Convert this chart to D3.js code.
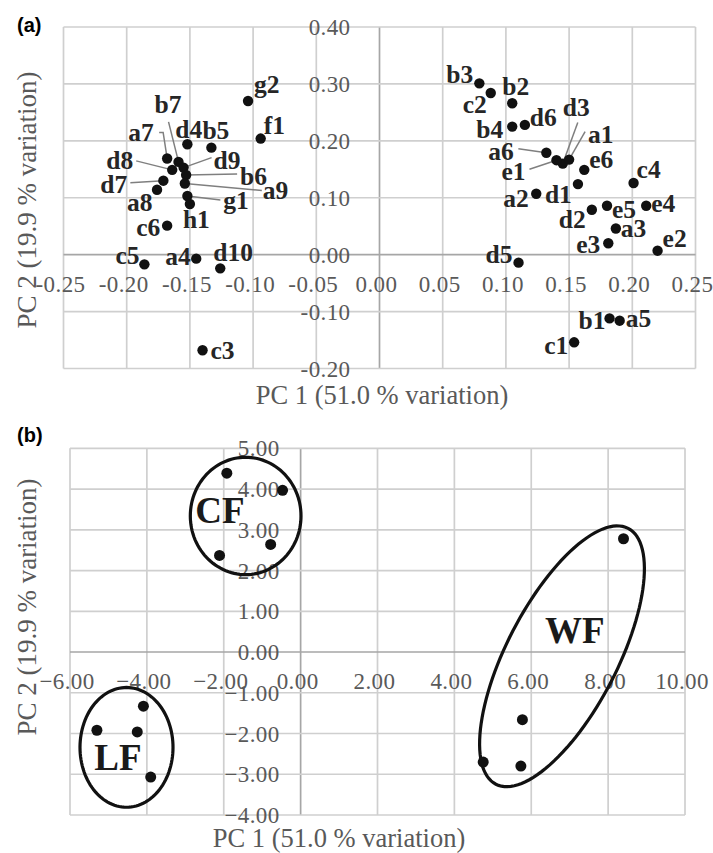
<!DOCTYPE html>
<html><head><meta charset="utf-8">
<script src="https://cdn.jsdelivr.net/npm/d3@7"></script>
<style>body{margin:0;background:#fff}</style>
</head><body>
<svg id="chart" width="713" height="853"></svg>
<script>
// ---------- Panel (a) data: PC loadings ----------
const aLabels = ["g2","f1","d4","b5","b7","a7","d8","d9","b6","d7","a9","a8","g1","h1","c6","c5","a4","d10","c3",
  "b3","b2","c2","d3","d6","b4","a1","a6","e1","e6","c4","a2","d1","d2","e5","e4","a3","e3","e2","d5","b1","a5","c1"];
const aPC1 = [-0.104,-0.094,-0.152,-0.133,-0.159,-0.168,-0.164,-0.155,-0.153,-0.171,-0.154,-0.176,-0.152,-0.150,-0.168,-0.186,-0.145,-0.126,-0.140,
  0.079,0.105,0.088,0.145,0.115,0.105,0.150,0.132,0.140,0.162,0.201,0.124,0.157,0.168,0.180,0.211,0.187,0.181,0.220,0.110,0.182,0.190,0.154];
const aPC2 = [0.270,0.204,0.194,0.188,0.163,0.169,0.149,0.153,0.140,0.130,0.125,0.114,0.103,0.089,0.051,-0.017,-0.007,-0.024,-0.168,
  0.301,0.266,0.284,0.160,0.228,0.225,0.167,0.179,0.166,0.149,0.126,0.107,0.124,0.079,0.086,0.086,0.046,0.020,0.007,-0.014,-0.112,-0.116,-0.154];
const aXTicks = [-0.25,-0.20,-0.15,-0.10,-0.05,0,0.05,0.10,0.15,0.20,0.25];
const aYTicks = [-0.20,-0.10,0,0.10,0.20,0.30,0.40];

// ---------- Panel (b) data: PC scores ----------
const bGroup = ["CF","CF","CF","CF","LF","LF","LF","LF","WF","WF","WF","WF"];
const bPC1 = [-1.92,-0.47,-0.78,-2.11,-4.09,-5.30,-4.25,-3.90,8.40,5.77,4.75,5.73];
const bPC2 = [4.39,3.97,2.64,2.37,-1.33,-1.92,-1.96,-3.07,2.78,-1.66,-2.70,-2.80];
const bXTicks = [-6,-4,-2,0,2,4,6,8,10];
const bYTicks = [-4,-3,-2,-1,0,1,2,3,4,5];
// group ellipses (data units): centre, two semi-axis vectors
const groupNames = ["CF","LF","WF"];
const groupCx = [-1.43,-4.53,6.80];
const groupCy = [3.34,-2.34,-0.105];
const groupU = [[1.44,0],[1.21,0],[1.72,3.14]];
const groupV = [[0,1.44],[0,1.47],[1.28,-0.62]];
const groupLabelX = [-2.74,-5.37,6.36];
const groupLabelY = [3.16,-2.90,0.21];

const xTitle = "PC 1 (51.0 % variation)";
const yTitle = "PC 2 (19.9 % variation)";

// ---------- layout (pixel offsets for data labels) ----------
const labelOffset = {g2:[6,-8],f1:[3,-5],d4:[-12,-6],b5:[-9,-9],b7:[-24,-49],a7:[-39,-17],d8:[-66,-1],d9:[30,1],
  b6:[54,10],d7:[-63,12],a9:[78,15],a8:[-30,21],g1:[36,13],h1:[-7,24],c6:[-31,10],c5:[-29,0],a4:[-31,6],d10:[-7,-7],c3:[8,9],
  b3:[-33,0],b2:[-10,-8],c2:[-28,20],d3:[0,-48],d6:[5,1],b4:[-36,11],a1:[19,-17],a6:[-58,7],e1:[-55,20],e6:[5,-2],c4:[3,-5],
  a2:[-33,13],d1:[-33,19],d2:[-33,18],e5:[5,12],e4:[5,6],a3:[5,9],e3:[-32,10],e2:[5,-4],d5:[-33,0],b1:[-31,11],a5:[6,6],c1:[-30,12]};
const leaders = {b7:[[-10,-40]],a7:[[-8,-26],[-4,-26]],d8:[[-36,-9]],d9:[[28,-10]],b6:[[51,-1]],d7:[[-33,2]],a9:[[77,7]],g1:[[33,4]],
  d3:[[15,-41]],a1:[[16,-28]],a6:[[-28,-4]],e1:[[-27,9]]};

const svg = d3.select("#chart");
const serif = "'Liberation Serif','Times New Roman',serif";
const gridC = "#cfcfcf", axisC = "#a6a6a6", textC = "#595959";

function panel(cfg){
  const g = svg.append("g");
  const x = d3.scaleLinear().domain(cfg.xd).range(cfg.xr);
  const y = d3.scaleLinear().domain(cfg.yd).range(cfg.yr);
  g.selectAll(".vx").data(cfg.xt).join("line")
    .attr("x1",d=>x(d)).attr("x2",d=>x(d)).attr("y1",y.range()[0]).attr("y2",y.range()[1])
    .attr("stroke",d=>d===0?axisC:gridC).attr("stroke-width",1.7);
  g.selectAll(".hy").data(cfg.yt).join("line")
    .attr("y1",d=>y(d)).attr("y2",d=>y(d)).attr("x1",x.range()[0]).attr("x2",x.range()[1])
    .attr("stroke",d=>d===0?axisC:gridC).attr("stroke-width",1.7);
  g.selectAll(".xl").data(cfg.xt).join("text")
    .attr("x",d=>x(d)-3).attr("y",y(0)+37).attr("text-anchor","middle")
    .attr("font-family",serif).attr("font-size",23).attr("letter-spacing",0.4).attr("fill",textC)
    .text(cfg.fmt);
  g.selectAll(".yl").data(cfg.yt).join("text")
    .attr("x",x(0)-cfg.ygap).attr("y",d=>y(d)+8).attr("text-anchor","end")
    .attr("font-family",serif).attr("font-size",23).attr("letter-spacing",0.4).attr("fill",textC)
    .text(cfg.fmt);
  g.append("text").attr("x",cfg.xtx).attr("y",cfg.xty).attr("text-anchor","middle")
    .attr("font-family",serif).attr("font-size",26.5).attr("fill",textC).text(xTitle);
  g.append("text").attr("transform",`translate(36,${cfg.yty}) rotate(-90)`).attr("text-anchor","middle")
    .attr("font-family",serif).attr("font-size",27).attr("fill",textC).text(yTitle);
  g.append("text").attr("x",17).attr("y",cfg.tagy).attr("font-family","'Liberation Sans',Arial,sans-serif")
    .attr("font-weight","bold").attr("font-size",20).attr("fill","#000").text(cfg.tag);
  return {g,x,y};
}

// ---------- Panel (a) ----------
const fmtA = d => d3.format(".2f")(d).replace("\u2212","-");
const A = panel({xd:[-0.25,0.25],xr:[63.5,695.5],yd:[-0.2,0.4],yr:[368.5,27],xt:aXTicks,yt:aYTicks,
  fmt:fmtA,ygap:29,xtx:382,xty:404,yty:200,tag:"(a)",tagy:32});
const aPts = aLabels.map((n,i)=>({n,px:A.x(aPC1[i]),py:A.y(aPC2[i])}));
const lineGen = d3.line();
A.g.selectAll(".ld").data(aPts.filter(p=>leaders[p.n])).join("path")
  .attr("d",p=>lineGen(leaders[p.n].map(o=>[p.px+o[0],p.py+o[1]]).concat([[p.px,p.py]])))
  .attr("fill","none").attr("stroke","#7f7f7f").attr("stroke-width",1.5);
A.g.selectAll(".dt").data(aPts).join("circle")
  .attr("cx",p=>p.px).attr("cy",p=>p.py).attr("r",5.2).attr("fill","#111");
A.g.selectAll(".lb").data(aPts).join("text")
  .attr("x",p=>p.px+labelOffset[p.n][0]).attr("y",p=>p.py+labelOffset[p.n][1])
  .attr("font-family",serif).attr("font-weight","bold").attr("font-size",25.5).attr("fill","#262626")
  .text(p=>p.n);

// ---------- Panel (b) ----------
const fmtB = d => d3.format(".2f")(d);
const B = panel({xd:[-6,10],xr:[70,685],yd:[-4,5],yr:[815,448.3],xt:bXTicks,yt:bYTicks,
  fmt:fmtB,ygap:21,xtx:339,xty:847,yty:607,tag:"(b)",tagy:442});
const ell = groupNames.map((n,i)=>d3.range(0,121).map(k=>{
    const t = k/120*2*Math.PI;
    const dx = groupCx[i]+groupU[i][0]*Math.cos(t)+groupV[i][0]*Math.sin(t);
    const dy = groupCy[i]+groupU[i][1]*Math.cos(t)+groupV[i][1]*Math.sin(t);
    return [B.x(dx),B.y(dy)];
  }));
B.g.selectAll(".el").data(ell).join("path").attr("d",d=>d3.line().curve(d3.curveLinearClosed)(d))
  .attr("fill","none").attr("stroke","#111").attr("stroke-width",3.2);
B.g.selectAll(".bd").data(bPC1).join("circle")
  .attr("cx",(d,i)=>B.x(bPC1[i])).attr("cy",(d,i)=>B.y(bPC2[i])).attr("r",5.5).attr("fill","#111");
B.g.selectAll(".gl").data(groupNames).join("text")
  .attr("x",(d,i)=>B.x(groupLabelX[i])).attr("y",(d,i)=>B.y(groupLabelY[i]))
  .attr("font-family",serif).attr("font-weight","bold").attr("font-size",37).attr("fill","#1a1a1a")
  .text(d=>d);
</script>
</body></html>
